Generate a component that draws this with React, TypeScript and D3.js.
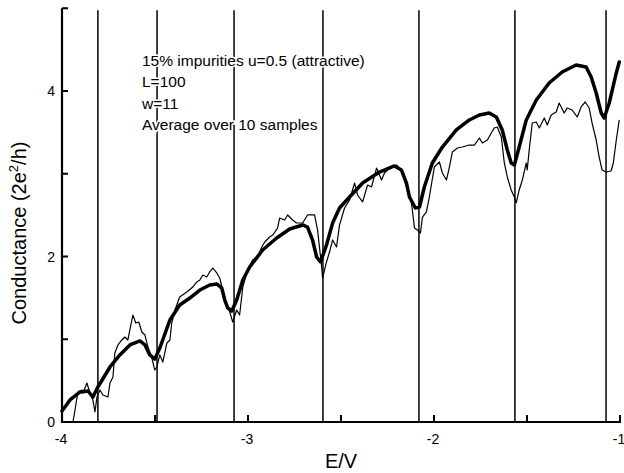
import React from "react";
import * as d3 from "d3";

// Smooth (averaged) conductance curve
const avgE = [-4.0, -3.957, -3.903, -3.86, -3.834, -3.807, -3.742, -3.689, -3.635, -3.581, -3.554, -3.528, -3.501, -3.474, -3.42, -3.367, -3.313, -3.259, -3.206, -3.168, -3.141, -3.125, -3.109, -3.087, -3.061, -3.028, -2.991, -2.921, -2.846, -2.776, -2.706, -2.68, -2.653, -2.631, -2.61, -2.578, -2.545, -2.508, -2.454, -2.384, -2.293, -2.213, -2.175, -2.148, -2.132, -2.1, -2.078, -2.052, -2.009, -1.955, -1.88, -1.81, -1.756, -1.703, -1.665, -1.633, -1.606, -1.585, -1.568, -1.542, -1.504, -1.45, -1.381, -1.311, -1.236, -1.182, -1.155, -1.128, -1.101, -1.085, -1.058, -1.02, -1.004];
const avgG = [0.133, 0.266, 0.363, 0.375, 0.302, 0.423, 0.665, 0.81, 0.931, 0.979, 0.931, 0.81, 0.761, 0.894, 1.233, 1.414, 1.498, 1.595, 1.656, 1.668, 1.619, 1.474, 1.378, 1.341, 1.474, 1.716, 1.873, 2.079, 2.224, 2.332, 2.381, 2.356, 2.199, 1.994, 1.934, 2.139, 2.405, 2.586, 2.719, 2.888, 3.021, 3.094, 3.045, 2.888, 2.719, 2.586, 2.598, 2.84, 3.13, 3.323, 3.529, 3.65, 3.71, 3.734, 3.686, 3.529, 3.287, 3.13, 3.106, 3.323, 3.65, 3.891, 4.097, 4.23, 4.314, 4.29, 4.169, 3.976, 3.734, 3.674, 3.855, 4.218, 4.35];

// Single-sample (noisy) conductance curve
const rawE = [-3.941, -3.93, -3.919, -3.914, -3.893, -3.887, -3.866, -3.85, -3.834, -3.823, -3.812, -3.796, -3.78, -3.753, -3.742, -3.726, -3.716, -3.699, -3.678, -3.662, -3.646, -3.635, -3.619, -3.603, -3.587, -3.571, -3.554, -3.538, -3.517, -3.501, -3.49, -3.474, -3.458, -3.436, -3.42, -3.41, -3.393, -3.367, -3.329, -3.297, -3.275, -3.259, -3.243, -3.222, -3.206, -3.189, -3.168, -3.152, -3.136, -3.114, -3.098, -3.082, -3.061, -3.045, -3.028, -3.002, -2.975, -2.948, -2.926, -2.91, -2.884, -2.867, -2.841, -2.83, -2.803, -2.787, -2.76, -2.739, -2.706, -2.68, -2.642, -2.626, -2.604, -2.599, -2.578, -2.561, -2.545, -2.524, -2.508, -2.481, -2.454, -2.427, -2.411, -2.384, -2.357, -2.336, -2.309, -2.282, -2.266, -2.239, -2.202, -2.175, -2.148, -2.121, -2.105, -2.089, -2.073, -2.062, -2.041, -2.025, -1.998, -1.971, -1.955, -1.933, -1.917, -1.901, -1.874, -1.848, -1.81, -1.783, -1.756, -1.74, -1.713, -1.692, -1.676, -1.66, -1.638, -1.622, -1.606, -1.585, -1.568, -1.558, -1.542, -1.525, -1.504, -1.499, -1.488, -1.472, -1.45, -1.434, -1.407, -1.391, -1.37, -1.343, -1.327, -1.3, -1.284, -1.257, -1.23, -1.209, -1.187, -1.166, -1.15, -1.128, -1.112, -1.096, -1.075, -1.048, -1.036, -1.02, -1.004];
const rawG = [0.0, 0.145, 0.302, 0.363, 0.387, 0.35, 0.471, 0.35, 0.266, 0.121, 0.302, 0.387, 0.326, 0.302, 0.471, 0.544, 0.834, 0.931, 0.991, 1.027, 0.991, 1.112, 1.293, 1.196, 1.208, 1.088, 1.051, 0.906, 0.773, 0.628, 0.665, 0.81, 0.725, 0.955, 0.991, 1.196, 1.353, 1.511, 1.571, 1.631, 1.692, 1.716, 1.776, 1.752, 1.813, 1.861, 1.801, 1.74, 1.595, 1.414, 1.329, 1.208, 1.353, 1.293, 1.631, 1.837, 1.958, 1.994, 2.115, 2.175, 2.236, 2.26, 2.344, 2.465, 2.441, 2.502, 2.441, 2.405, 2.405, 2.502, 2.502, 2.32, 1.873, 1.74, 1.934, 2.06, 2.2, 2.115, 2.38, 2.586, 2.683, 2.888, 2.743, 2.659, 2.864, 2.84, 3.069, 2.924, 3.009, 3.069, 3.106, 3.045, 2.84, 2.647, 2.344, 2.32, 2.284, 2.477, 2.538, 2.719, 3.082, 3.142, 3.009, 2.924, 3.082, 3.263, 3.311, 3.323, 3.347, 3.347, 3.432, 3.372, 3.408, 3.492, 3.553, 3.565, 3.444, 3.13, 2.961, 2.804, 2.719, 2.647, 2.804, 2.924, 3.13, 3.045, 3.287, 3.613, 3.625, 3.553, 3.674, 3.589, 3.71, 3.746, 3.855, 3.734, 3.795, 3.77, 3.686, 3.807, 3.867, 3.795, 3.613, 3.408, 3.202, 3.045, 3.021, 3.033, 3.13, 3.408, 3.65];

// Subband threshold energies (vertical lines)
const thresholds = [-3.807, -3.489, -3.075, -2.597, -2.081, -1.565, -1.075];

const xTicks = [-4, -3.5, -3, -2.5, -2, -1.5, -1];
const xLabels = [-4, -3, -2, -1];
const yTicks = [0, 1, 2, 3, 4, 5];
const yLabels = [0, 2, 4];

const noteLines = [
  "15% impurities u=0.5 (attractive)",
  "L=100",
  "w=11",
  "Average over 10 samples",
];

export default function App() {
  const W = 624, H = 473;
  const x = d3.scaleLinear().domain([-4, -1]).range([62, 620]);
  const y = d3.scaleLinear().domain([0, 5]).range([422, 8.25]);
  const mk = (E: number[], G: number[]) =>
    d3
      .line<number>()
      .x((e) => x(e))
      .y((_, i) => y(G[i]))
      .curve(d3.curveLinear)(E) || "";
  const font = "'Liberation Sans', Arial, Helvetica, sans-serif";
  return (
    <svg
      width={W}
      height={H}
      style={{ position: "absolute", left: 0, top: 0, background: "#fff" }}
      fontFamily={font}
    >
      <rect width={W} height={H} fill="#fff" />
      {thresholds.map((t) => (
        <line key={t} x1={x(t)} x2={x(t)} y1={y(5) + 2} y2={y(0)} stroke="#000" strokeWidth={1.5} />
      ))}
      <path d={mk(rawE, rawG)} fill="none" stroke="#000" strokeWidth={1.2} strokeLinejoin="round" />
      <path d={mk(avgE, avgG)} fill="none" stroke="#000" strokeWidth={3.5} strokeLinejoin="round" strokeLinecap="round" />
      {/* axes */}
      <line x1={x(-4)} x2={x(-4)} y1={y(5)} y2={y(0) + 1} stroke="#000" strokeWidth={2.2} />
      <line x1={x(-4) - 1} x2={x(-1) + 1} y1={y(0)} y2={y(0)} stroke="#000" strokeWidth={2.2} />
      {yTicks.map((t) => (
        <line key={t} x1={x(-4)} x2={x(-4) + 6} y1={y(t)} y2={y(t)} stroke="#000" strokeWidth={2} />
      ))}
      {xTicks.map((t) => (
        <line key={t} x1={x(t)} x2={x(t)} y1={y(0)} y2={y(0) - 7} stroke="#000" strokeWidth={2} />
      ))}
      {yLabels.map((t) => (
        <text key={t} x={x(-4) - 7} y={y(t) + 5} fontSize={14} textAnchor="end">
          {t}
        </text>
      ))}
      {xLabels.map((t) => (
        <text key={t} x={x(t) - 1} y={444} fontSize={14} textAnchor="middle">
          {t}
        </text>
      ))}
      <text x={341} y={468} fontSize={20} textAnchor="middle">
        E/V
      </text>
      <text transform="translate(26,233) rotate(-90)" fontSize={20} textAnchor="middle">
        Conductance (2e<tspan dy={-8} fontSize={13}>2</tspan>
        <tspan dy={8}>/h)</tspan>
      </text>
      {noteLines.map((s, i) => (
        <text
          key={s}
          x={142}
          y={66 + i * 21.3}
          fontSize={15.5}
          stroke="#fff"
          strokeWidth={3}
          paintOrder="stroke"
        >
          {s}
        </text>
      ))}
    </svg>
  );
}
